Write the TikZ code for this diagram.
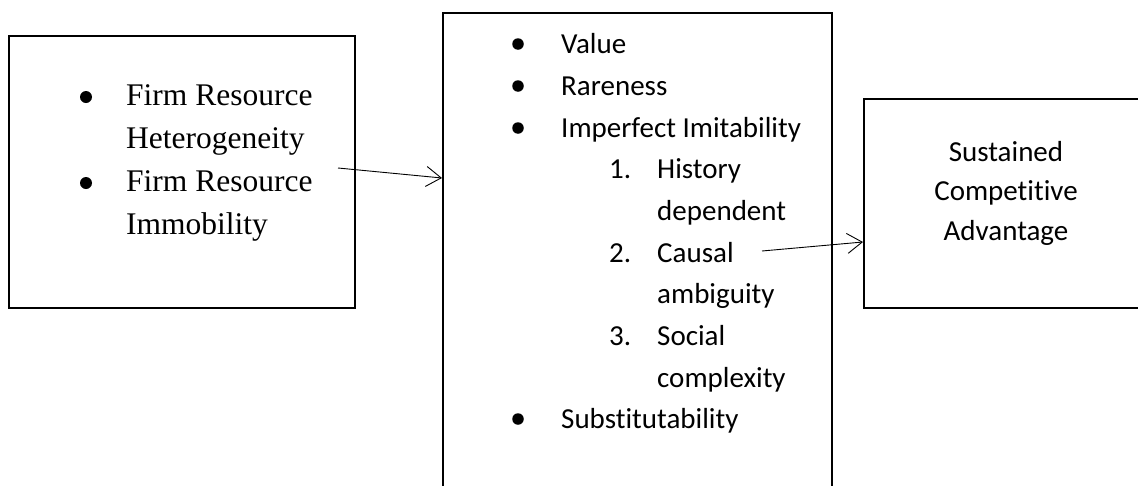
\documentclass[tikz,border=0pt]{standalone}
\usepackage{fontspec}
\setmainfont{Liberation Serif}
\newfontfamily\calfont[Ligatures=NoCommon]{Carlito}
\usetikzlibrary{arrows.meta}
\begin{document}
\begin{tikzpicture}[x=1pt,y=-1pt,
  box/.style={draw, line width=2pt, rectangle, inner sep=0pt},
  serifitem/.style={anchor=base west, inner sep=0pt, font=\fontsize{31.5}{36}\selectfont},
  calitem/.style={anchor=base west, inner sep=0pt, font=\calfont\fontsize{29}{34}\selectfont},
  calcentre/.style={anchor=base, inner sep=0pt, font=\calfont\fontsize{29}{34}\selectfont},
  dot/.style={circle, fill=black, inner sep=0pt, minimum size=#1},
  link/.style={line width=0.9pt, -{Straight Barb[length=15pt,width=20pt,line width=0.9pt]}}]
\useasboundingbox (0,0) rectangle (1138,485);
\clip (0,0) rectangle (1138,485);

% three boxes
\node[box, minimum width=346, minimum height=272] (left) at (182,172) {};
\node[box, minimum width=389, minimum height=507] (mid) at (637.5,266.5) {};
\node[box, minimum width=296, minimum height=209] (right) at (1012,203.5) {};

% left box: bulleted conditions
\node[dot=12pt] (lb1) at (86,97) {};
\node[serifitem] (l1) at (126,105) {Firm Resource};
\node[serifitem] (l2) at (126,148) {Heterogeneity};
\node[dot=12pt] (lb2) at (86,183) {};
\node[serifitem] (l3) at (126,191) {Firm Resource};
\node[serifitem] (l4) at (126,234) {Immobility};

% middle box: resource attributes
\node[dot=11.5pt] (mb1) at (518,44) {};
\node[calitem] (m1) at (561,53) {Value};
\node[dot=11.5pt] (mb2) at (518,86) {};
\node[calitem] (m2) at (561,95) {Rareness};
\node[dot=11.5pt] (mb3) at (518,128) {};
\node[calitem] (m3) at (561,137) {Imperfect Imitability};
\node[calitem] (n1) at (609,178) {1.};
\node[calitem] (m4) at (657,178) {History};
\node[calitem] (m5) at (657,220) {dependent};
\node[calitem] (n2) at (609,262) {2.};
\node[calitem] (m6) at (657,262) {Causal};
\node[calitem] (m7) at (657,303) {ambiguity};
\node[calitem] (n3) at (609,345) {3.};
\node[calitem] (m8) at (657,345) {Social};
\node[calitem] (m9) at (657,387) {complexity};
\node[dot=11.5pt] (mb4) at (518,419) {};
\node[calitem] (m10) at (561,428) {Substitutability};

% right box: outcome
\node[calcentre] (r1) at (1006,161) {Sustained};
\node[calcentre] (r2) at (1006,200) {Competitive};
\node[calcentre] (r3) at (1006,240) {Advantage};

% connectors (yshift acts in page units, upward positive)
\coordinate (a1s) at (338,168);
\coordinate (a1e) at ([yshift=88.5]mid.west);
\coordinate (a2s) at (762,251);
\coordinate (a2e) at ([yshift=-38.5]right.west);
\draw[link] (a1s) -- (a1e);
\draw[link] (a2s) -- (a2e);
\end{tikzpicture}
\end{document}
